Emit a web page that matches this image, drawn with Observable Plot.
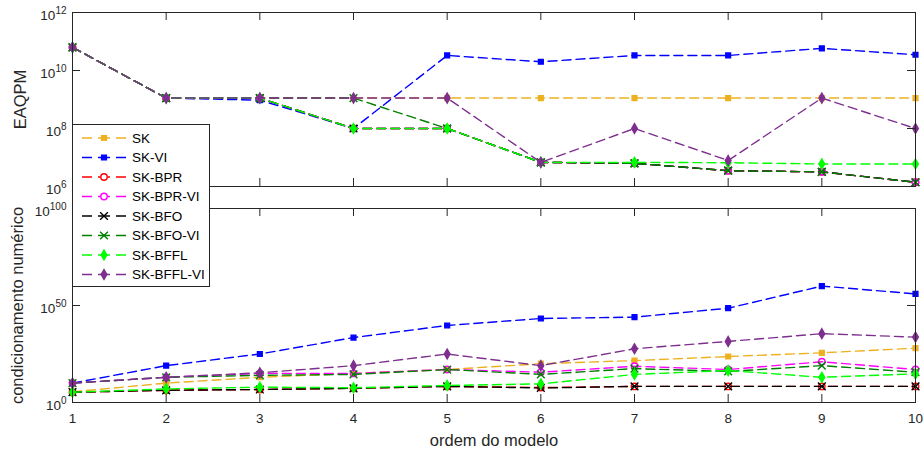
<!DOCTYPE html>
<html>
<head>
<meta charset="utf-8">
<script src="https://cdn.jsdelivr.net/npm/d3@7"></script>
<script src="https://cdn.jsdelivr.net/npm/@observablehq/plot@0.6"></script>
<style>
  html, body { margin: 0; padding: 0; background: #fff; }
  #wrap { position: relative; width: 923px; height: 452px; font-family: "Liberation Sans", Arial, sans-serif; }
  #wrap svg { display: block; overflow: visible !important; background: none !important; }
  #legend { position: absolute; left: 72px; top: 124px; }
</style>
</head>
<body>
<div id="wrap"></div>
<script>
// ---------- data ----------
const ordem = [1, 2, 3, 4, 5, 6, 7, 8, 9, 10];
const seriesNames = ["SK", "SK-VI", "SK-BPR", "SK-BPR-VI", "SK-BFO", "SK-BFO-VI", "SK-BFFL", "SK-BFFL-VI"];

// EAQPM (top panel)
const eaqpm_SK       = [6.3e10, 1.12e9, 1.12e9, 1.12e9, 1.12e9, 1.12e9, 1.12e9, 1.12e9, 1.12e9, 1.12e9];
const eaqpm_SK_VI    = [6.3e10, 1.12e9, 9.5e8, 1.0e8, 3.3e10, 2.0e10, 3.3e10, 3.3e10, 5.8e10, 3.5e10];
const eaqpm_SK_BPR   = [6.3e10, 1.12e9, 1.12e9, 1.0e8, 1.0e8, 6.8e6, 6.3e6, 3.5e6, 3.2e6, 1.4e6];
const eaqpm_SK_BPR_VI= [6.3e10, 1.12e9, 1.12e9, 1.0e8, 1.0e8, 6.8e6, 6.3e6, 3.5e6, 3.2e6, 1.4e6];
const eaqpm_SK_BFO   = [6.3e10, 1.12e9, 1.12e9, 1.0e8, 1.0e8, 6.8e6, 6.3e6, 3.5e6, 3.2e6, 1.4e6];
const eaqpm_SK_BFO_VI= [6.3e10, 1.12e9, 1.12e9, 1.12e9, 1.0e8, 6.8e6, 6.3e6, 3.5e6, 3.2e6, 1.4e6];
const eaqpm_SK_BFFL  = [6.3e10, 1.12e9, 1.12e9, 1.0e8, 1.0e8, 6.8e6, 6.8e6, 6.6e6, 6.0e6, 6.0e6];
const eaqpm_SK_BFFL_VI=[6.3e10, 1.12e9, 1.12e9, 1.12e9, 1.12e9, 6.8e6, 1.0e8, 7.9e6, 1.12e9, 1.0e8];

// condicionamento numérico (bottom panel)
const cond_SK        = [3e5, 1e10, 1e13, 1e15, 1e17, 1e20, 4e21, 5e23, 4e25, 1e28];
const cond_SK_VI     = [1e10, 1e19, 1e25, 3e33, 5e39, 2e43, 1e44, 4e48, 1e60, 1e56];
const cond_SK_BPR    = [2e5, 2e6, 5e6, 2e7, 2e8, 5e7, 2e8, 2e8, 2e8, 2e8];
const cond_SK_BPR_VI = [1e10, 1e13, 1e15, 1e15, 1e17, 4e15, 5e18, 1e17, 1e21, 1e17];
const cond_SK_BFO    = [2e5, 2e6, 5e6, 2e7, 2e8, 3e7, 2e8, 2e8, 2e8, 2e8];
const cond_SK_BFO_VI = [1e10, 1e13, 1e14, 3e14, 1e17, 3e14, 3e17, 1e16, 1e19, 4e15];
const cond_SK_BFFL   = [2e5, 1e7, 8e7, 4e7, 6e8, 4e9, 3e14, 3e16, 1e13, 6e14];
const cond_SK_BFFL_VI= [1e10, 1e13, 2e15, 1e19, 1e25, 1e19, 5e27, 3e31, 3e35, 5e33];

const eaqpmSeries = [eaqpm_SK, eaqpm_SK_VI, eaqpm_SK_BPR, eaqpm_SK_BPR_VI, eaqpm_SK_BFO, eaqpm_SK_BFO_VI, eaqpm_SK_BFFL, eaqpm_SK_BFFL_VI];
const condSeries  = [cond_SK, cond_SK_VI, cond_SK_BPR, cond_SK_BPR_VI, cond_SK_BFO, cond_SK_BFO_VI, cond_SK_BFFL, cond_SK_BFFL_VI];

const yTicksTop = [1e6, 1e8, 1e10, 1e12];
const yTicksBottom = [1, 1e50, 1e100];

// ---------- styles ----------
const colors  = ["#EDB120", "#0000FF", "#FF0000", "#FF00FF", "#000000", "#008000", "#00FF00", "#7E2F8E"];
const symbols = ["square", "square", "circle", "circle", "times", "times", "diamond", "diamond"];
const symR    = {square: 2.7, circle: 3.2, times: 3.6, diamond: 3.0};
const filled  = [true, true, false, false, false, false, true, true];
const axisColor = "#262626";
const W = 923, ML = 72, MR = 8;
const innerW = W - ML - MR;
const dash = "9,5";

function seriesMarks(values) {
  const marks = [];
  values.forEach((vals, s) => {
    const rows = ordem.map((x, i) => ({x, y: vals[i]}));
    marks.push(Plot.line(rows, {x: "x", y: "y", stroke: colors[s], strokeWidth: 1.4, strokeDasharray: dash}));
    marks.push(Plot.dot(rows, {
      x: "x", y: "y", r: symR[symbols[s]], symbol: symbols[s],
      stroke: colors[s], strokeWidth: 1.4,
      fill: filled[s] ? colors[s] : "none"
    }));
  });
  return marks;
}

function boxTicks(yTicks, innerH, tl = 8) {
  return [
    Plot.tickX(ordem, {x: d => d, insetTop: innerH - tl, stroke: axisColor}),
    Plot.tickX(ordem, {x: d => d, insetBottom: innerH - tl, stroke: axisColor}),
    Plot.tickY(yTicks, {y: d => d, insetRight: innerW - tl, stroke: axisColor}),
    Plot.tickY(yTicks, {y: d => d, insetLeft: innerW - tl, stroke: axisColor}),
    Plot.frame({stroke: axisColor, strokeWidth: 1})
  ];
}

const fmt = d => "10^" + Math.round(Math.log10(d));
const baseStyle = {fontFamily: "Liberation Sans, Arial, sans-serif", fontSize: "13.5px", color: axisColor, background: "none", overflow: "visible"};

// ---------- top panel ----------
const topH = 190, topMT = 12, topMB = 4;
const topInner = topH - topMT - topMB;
const topPlot = Plot.plot({
  width: W, height: topH,
  marginLeft: ML, marginRight: MR, marginTop: topMT, marginBottom: topMB,
  style: baseStyle,
  x: {domain: [1, 10], axis: null},
  y: {type: "log", domain: [1e6, 1e12]},
  marks: [
    ...seriesMarks(eaqpmSeries),
    ...boxTicks(yTicksTop, topInner),
    Plot.axisY(yTicksTop, {tickFormat: fmt, tickSize: 0, tickPadding: 6, fontSize: 13.5, fill: axisColor, label: null}),
    Plot.text(["EAQPM"], {frameAnchor: "left", dx: -52, rotate: -90, fontSize: 16.5, fill: axisColor, textAnchor: "middle", lineAnchor: "middle"})
  ]
});

// ---------- bottom panel ----------
const botH = 262, botMT = 18, botMB = 50;
const botInner = botH - botMT - botMB;
const botPlot = Plot.plot({
  width: W, height: botH,
  marginLeft: ML, marginRight: MR, marginTop: botMT, marginBottom: botMB,
  style: baseStyle,
  x: {domain: [1, 10]},
  y: {type: "log", domain: [1, 1e100]},
  marks: [
    ...seriesMarks(condSeries),
    ...boxTicks(yTicksBottom, botInner),
    Plot.axisY(yTicksBottom, {tickFormat: fmt, tickSize: 0, tickPadding: 6, fontSize: 13.5, fill: axisColor, label: null}),
    Plot.axisX(ordem, {tickFormat: d => String(d), tickSize: 0, tickPadding: 11, fontSize: 13.5, fill: axisColor, label: null}),
    Plot.text(["condicionamento numérico"], {frameAnchor: "left", dx: -55, rotate: -90, fontSize: 16.5, fill: axisColor, textAnchor: "middle", lineAnchor: "middle"}),
    Plot.text(["ordem do modelo"], {frameAnchor: "bottom", dy: 38, fontSize: 16.5, fill: axisColor, textAnchor: "middle", lineAnchor: "middle"})
  ]
});

// superscript exponents on log tick labels
function supify(svg) {
  d3.select(svg).selectAll("text").each(function() {
    const m = /^10\^(\d+)$/.exec(this.textContent);
    if (!m) return;
    const sel = d3.select(this);
    sel.text(null);
    sel.append("tspan").attr("dy", "3").text("10");
    sel.append("tspan").attr("dy", "-5.5").attr("font-size", "10px").text(m[1]);
  });
}
supify(topPlot);
supify(botPlot);

const wrap = document.getElementById("wrap");
wrap.appendChild(topPlot);
wrap.appendChild(botPlot);

// ---------- legend ----------
const lgW = 137, lgH = 162, rowH = 19.5, row0 = 14;
const lg = d3.create("svg").attr("id", "legend").attr("width", lgW + 1).attr("height", lgH + 1);
lg.append("rect").attr("x", 0.5).attr("y", 0.5).attr("width", lgW).attr("height", lgH)
  .attr("fill", "#fff").attr("stroke", axisColor).attr("stroke-width", 1);
const symMap = {square: d3.symbolSquare, circle: d3.symbolCircle, times: d3.symbolTimes, diamond: d3.symbolDiamond};
seriesNames.forEach((name, s) => {
  const y = row0 + s * rowH;
  const r = symR[symbols[s]];
  const g = lg.append("g").attr("transform", `translate(0,${y})`);
  g.append("line").attr("x1", 10).attr("x2", 54).attr("y1", 0).attr("y2", 0)
    .attr("stroke", colors[s]).attr("stroke-width", 1.4).attr("stroke-dasharray", "10,6,12,6,10");
  g.append("path").attr("transform", "translate(32,0)")
    .attr("d", d3.symbol(symMap[symbols[s]], r * r * Math.PI)())
    .attr("stroke", colors[s]).attr("stroke-width", 1.4)
    .attr("fill", filled[s] ? colors[s] : (symbols[s] === "circle" ? "#fff" : "none"));
  g.append("text").attr("x", 60).attr("y", 0).attr("dy", "0.35em")
    .attr("font-size", "13.5px").attr("fill", "#000").text(name);
});
wrap.appendChild(lg.node());
</script>
</body>
</html>
